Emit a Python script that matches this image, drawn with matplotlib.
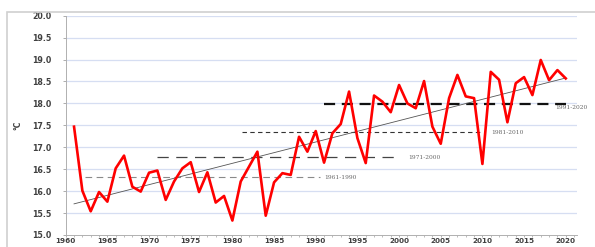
import matplotlib.pyplot as plt
import numpy as np
from matplotlib.patches import Rectangle

years = list(range(1961, 2021))
temps = [17.47, 16.01, 15.54, 15.98, 15.76, 16.52, 16.81, 16.10, 15.99, 16.42,
         16.47, 15.80, 16.22, 16.52, 16.66, 15.98, 16.43, 15.74, 15.89, 15.33,
         16.22, 16.56, 16.90, 15.44, 16.20, 16.41, 16.37, 17.24, 16.90, 17.37,
         16.65, 17.32, 17.53, 18.27, 17.21, 16.64, 18.18, 18.04, 17.80, 18.42,
         18.00, 17.89, 18.51, 17.47, 17.08, 18.12, 18.65, 18.16, 18.12, 16.62,
         18.72, 18.54, 17.57, 18.46, 18.60, 18.19, 18.99, 18.53, 18.76, 18.57]

trend_years = [1961, 2020]
trend_values = [15.71, 18.58]

normal_labels = ['1961-1990', '1971-2000', '1981-2010', '1991-2020']
normal_start = [1962.3, 1971, 1981.2, 1991]
normal_end = [1990.5, 1999.8, 2010, 2020]
normal_values = [16.33, 16.77, 17.34, 17.99]

y_ticks = np.arange(15.0, 20.01, 0.5)
x_ticks = list(range(1960, 2021, 5))


def main():
    fig = plt.figure(figsize=(5.95, 2.47), dpi=100)
    fig.patches.append(Rectangle((7 / 595, -0.1), 1.2, 1.1 - 12 / 247,
                                 transform=fig.transFigure, fill=False,
                                 edgecolor='#d0d0d0', lw=1.2))
    ax = fig.add_axes([65.7 / 595, 12 / 247, (577 - 65.7) / 595, (235 - 15.7) / 247])

    ax.set_xlim(1960, 2021.35)
    ax.set_ylim(15, 20)
    for y in y_ticks[1:]:
        ax.axhline(y, color='#d6def2', lw=0.9, zorder=0)

    # normals
    styles = [dict(color='#8a8a8a', lw=0.8, dashes=(6, 4)),
              dict(color='#444444', lw=0.9, dashes=(9, 6)),
              dict(color='#333333', lw=0.8, dashes=(4, 3)),
              dict(color='#111111', lw=1.6, dashes=(5, 3))]
    label_pos = [(1991.0, 16.30), (2001.1, 16.76), (2011.05, 17.33), (2018.7, 17.90)]
    for lab, x0, x1, v, st, (lx, ly) in zip(normal_labels, normal_start, normal_end,
                                             normal_values, styles, label_pos):
        ax.plot([x0, x1], [v, v], zorder=2, **st)
        ax.text(lx, ly, lab, fontsize=4.2, color='#666666', family='DejaVu Serif',
                va='center', ha='left')

    # trend
    ax.plot(trend_years, trend_values, color='#555555', lw=0.6, zorder=3)

    ax.plot(years, temps, color='#ff0000', lw=1.9, zorder=4)

    ax.set_yticks(y_ticks)
    ax.set_yticklabels([f'{v:.1f}' for v in y_ticks])
    ax.set_xticks(x_ticks)
    ax.set_xticks(range(1960, 2022), minor=True)
    for lab in ax.get_yticklabels():
        lab.set_fontsize(5.7)
    for lab in ax.get_xticklabels():
        lab.set_fontsize(5.2)
    for lab in ax.get_xticklabels() + ax.get_yticklabels():
        lab.set_fontweight('bold')
        lab.set_color('#404040')
    ax.tick_params(axis='y', length=2.5, width=0.6, color='#a0a0a0', pad=8)
    ax.tick_params(axis='x', which='major', length=1.5, width=0.6, color='#a0a0a0', pad=0.8)
    ax.tick_params(axis='x', which='minor', length=1.2, width=0.5, color='#a0a0a0')
    for s in ['top', 'right']:
        ax.spines[s].set_visible(False)
    ax.spines['left'].set_color('#b0b0b0')
    ax.spines['bottom'].set_color('#b0b0b0')
    ax.spines['left'].set_linewidth(0.7)
    ax.spines['bottom'].set_linewidth(0.7)

    ax.set_ylabel('°C', fontsize=5.5, fontweight='bold', color='#404040')
    ax.yaxis.set_label_coords(-0.085, 0.5)

    fig.savefig('out.png', dpi=100)


if __name__ == '__main__':
    main()
